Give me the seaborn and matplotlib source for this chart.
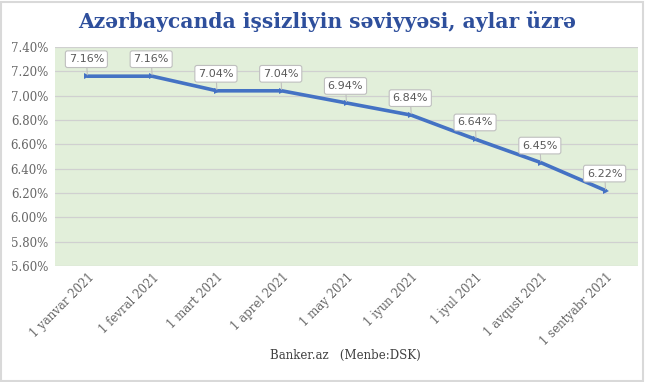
import matplotlib
matplotlib.use("Agg")
import matplotlib.pyplot as plt
import seaborn as sns
import pandas as pd
from matplotlib.patches import Rectangle
from matplotlib.ticker import FuncFormatter

months = ["1 yanvar 2021", "1 fevral 2021", "1 mart 2021", "1 aprel 2021", "1 may 2021",
          "1 iyun 2021", "1 iyul 2021", "1 avqust 2021", "1 sentyabr 2021"]
rates = [7.16, 7.16, 7.04, 7.04, 6.94, 6.84, 6.64, 6.45, 6.22]
y_ticks = [5.6, 5.8, 6.0, 6.2, 6.4, 6.6, 6.8, 7.0, 7.2, 7.4]

df = pd.DataFrame({"month": months, "rate": rates})

sns.set_theme(style="white")
plt.rcParams["font.family"] = ["DejaVu Serif", "DejaVu Sans"]

fig = plt.figure(figsize=(6.5, 3.82), dpi=100)
ax = fig.add_axes([55 / 650, 1 - 266 / 382, 583 / 650, 219 / 382])
ax.set_facecolor("#E2EFDA")

sns.lineplot(data=df, x="month", y="rate", ax=ax, color="#4472C4", linewidth=2.6,
             sort=False, marker=">", markersize=4, markeredgewidth=0)

ax.set_xlim(-0.5, len(months) - 0.5)
ax.set_ylim(5.6, 7.4)
ax.set_yticks(y_ticks)
ax.yaxis.set_major_formatter(FuncFormatter(lambda v, p: f"{v:.2f}%"))
ax.grid(axis="y", color="#D0D0D0", linewidth=0.9)
ax.set_axisbelow(True)
for s in ax.spines.values():
    s.set_visible(False)
ax.set_xlabel("")
ax.set_ylabel("")
ax.tick_params(axis="both", length=0, labelsize=8.5, labelcolor="#666666")
ax.tick_params(axis="y", pad=5)
plt.setp(ax.get_xticklabels(), rotation=45, ha="right", va="top", rotation_mode="anchor")

# callout labels above each point
for i, v in enumerate(rates):
    ax.annotate(f"{v:.2f}%", xy=(i, v), xytext=(-1, 17), textcoords="offset pixels",
                ha="center", va="center", fontsize=8, color="#595959", family="DejaVu Sans",
                bbox=dict(boxstyle="round,pad=0.3,rounding_size=0.2", fc="white", ec="#BFBFBF", lw=0.8),
                arrowprops=dict(arrowstyle="-", color="#BFBFBF", lw=0.8, shrinkA=0, shrinkB=1))

fig.text(327 / 650, 1 - 22 / 382, "Azərbaycanda işsizliyin səviyyəsi, aylar üzrə",
         ha="center", va="center", fontsize=14.6, fontweight="bold", color="#2E4F9C")
fig.text(345 / 650, 1 - 355 / 382, "Banker.az   (Menbe:DSK)", ha="center", va="center",
         fontsize=8.5, color="#404040")

fig.patches.append(Rectangle((1 / 650, 1 / 382), 642 / 650, 379 / 382, transform=fig.transFigure,
                             fill=False, ec="#D9D9D9", lw=1.5))

fig.savefig("out.png", dpi=100)
